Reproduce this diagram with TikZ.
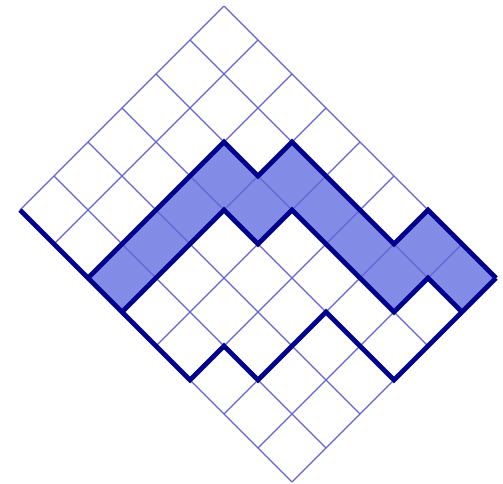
\documentclass[tikz,border=0pt]{standalone}
\usepackage{xcolor}
\usepackage{tikz}
\definecolor{gridcol}{RGB}{100,100,210}
\definecolor{pathcol}{RGB}{0,0,140}
\definecolor{stripcol}{RGB}{130,140,230}
\begin{document}
\begin{tikzpicture}[
  x={(17pt,-17pt)}, y={(-17pt,-17pt)},
  thin line/.style={gridcol, line width=0.6pt},
  thick line/.style={pathcol, line width=2.4pt, line join=miter}
]
\useasboundingbox (-112pt,3pt) rectangle (139.5pt,-238.5pt);
% the ribbon
\fill[stripcol] (2,6) -- (2,2) -- (3,2) -- (3,1) -- (6,1) -- (6,0) -- (8,0)
  -- (8,1) -- (7,1) -- (7,2) -- (4,2) -- (4,3) -- (3,3) -- (3,6) -- cycle;
% grid
\foreach \i in {0,...,8}
  \draw[thin line] (\i,0) -- (\i,6);
\foreach \j in {0,...,6}
  \draw[thin line] (0,\j) -- (8,\j);
% upper path, lower edge of ribbon, lower path
\draw[thick line] (2,6) -- (2,2) -- (3,2) -- (3,1) -- (6,1) -- (6,0) -- (8,0);
\draw[thick line] (3,6) -- (3,3) -- (4,3) -- (4,2) -- (7,2) -- (7,1) -- (8,1);
\draw[thick line] (0,6) -- (5,6) -- (5,5) -- (6,5) -- (6,3) -- (8,3) -- (8,0);
\end{tikzpicture}
\end{document}
